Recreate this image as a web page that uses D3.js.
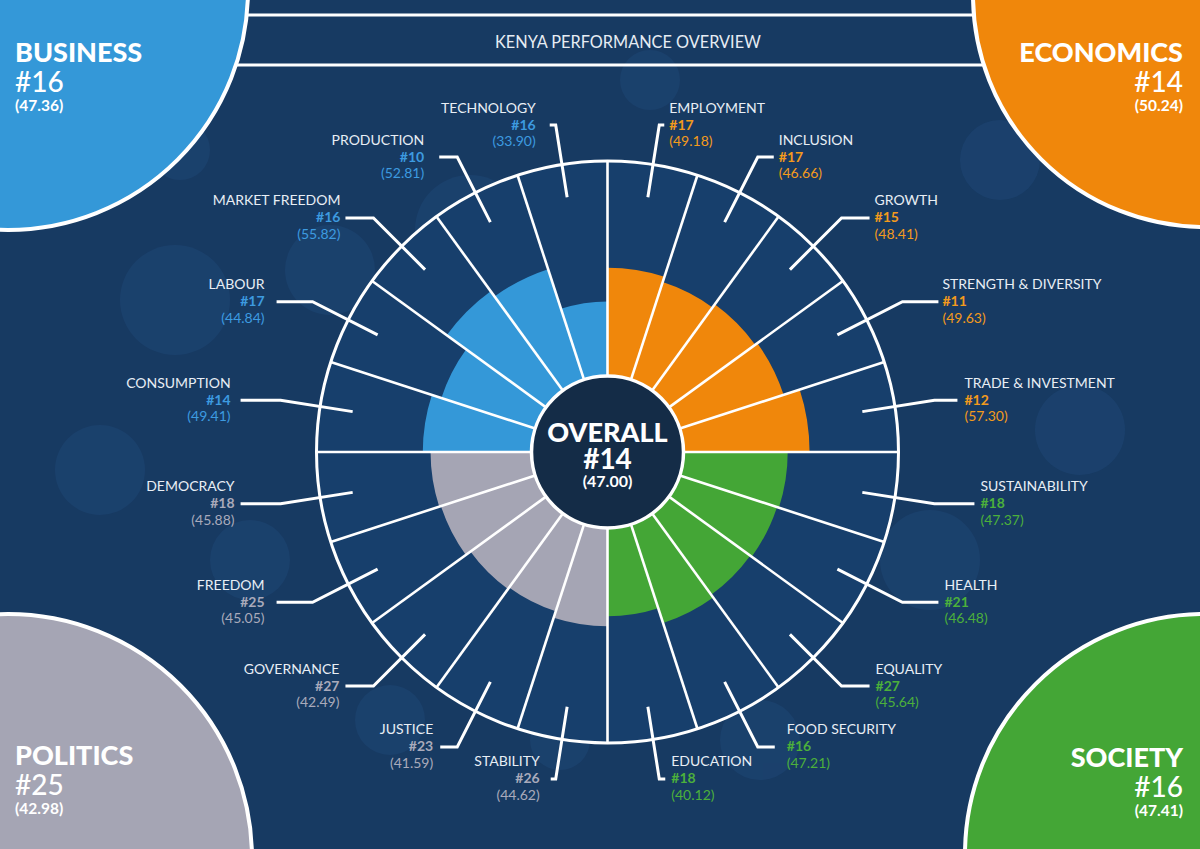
<!DOCTYPE html>
<html><head><meta charset="utf-8">
<script src="https://cdn.jsdelivr.net/npm/d3@7"></script>
<style>
html,body{margin:0;padding:0;background:#173a62;}
svg{display:block;font-family:Lato,"Open Sans",sans-serif;}
</style></head>
<body><svg id="c" width="1200" height="849"></svg>
<script>
// ---------- DATA ----------
const title = "KENYA PERFORMANCE OVERVIEW";
const overall = {label: "OVERALL", rank: 14, score: "47.00"};
const pillars = ["BUSINESS", "ECONOMICS", "POLITICS", "SOCIETY"];
const pillarRanks = [16, 14, 25, 16];
const pillarScores = ["47.36", "50.24", "42.98", "47.41"];
// indicators clockwise from 12 o'clock
const indicators = ["EMPLOYMENT","INCLUSION","GROWTH","STRENGTH & DIVERSITY","TRADE & INVESTMENT",
  "SUSTAINABILITY","HEALTH","EQUALITY","FOOD SECURITY","EDUCATION",
  "STABILITY","JUSTICE","GOVERNANCE","FREEDOM","DEMOCRACY",
  "CONSUMPTION","LABOUR","MARKET FREEDOM","PRODUCTION","TECHNOLOGY"];
const indicatorPillar = ["ECONOMICS","ECONOMICS","ECONOMICS","ECONOMICS","ECONOMICS",
  "SOCIETY","SOCIETY","SOCIETY","SOCIETY","SOCIETY",
  "POLITICS","POLITICS","POLITICS","POLITICS","POLITICS",
  "BUSINESS","BUSINESS","BUSINESS","BUSINESS","BUSINESS"];
const indicatorRanks = [17,17,15,11,12, 18,21,27,16,18, 26,23,27,25,18, 14,17,16,10,16];
const indicatorScores = [49.18,46.66,48.41,49.63,57.30, 47.37,46.48,45.64,47.21,40.12,
  44.62,41.59,42.49,45.05,45.88, 49.41,44.84,55.82,52.81,33.90];

// ---------- LAYOUT / STYLE ----------
const W = 1200, H = 849, cx = 607.5, cy = 452;
const rInner = 76, rOuter = 291, rTick0 = 258, rElbow = 331;
const hook =    [5,16,28,36,23, 40,36,28,17,6, 5,17,28,36,40, 40,36,28,18,6];
const textOff = [10,21,33,40,30, 46,42,34,29,12, 16,24,34,48,46, 50,48,33,33,20];
const colors = {BUSINESS:"#3498d8", ECONOMICS:"#f0870b", POLITICS:"#a5a5b4", SOCIETY:"#44a636"};
const textColors = {BUSINESS:"#3d9be0", ECONOMICS:"#f39a1c", POLITICS:"#a9aabb", SOCIETY:"#4cb03b"};
const corner = {
  BUSINESS:  {x:8,    y:-10, r:240, tx:15,   anchor:"start", by:62},
  ECONOMICS: {x:1205, y:-5,  r:232, tx:1183, anchor:"end",   by:62},
  POLITICS:  {x:8,    y:858, r:244, tx:15,   anchor:"start", by:765},
  SOCIETY:   {x:1205, y:854, r:240, tx:1183, anchor:"end",   by:767}
};

const svg = d3.select("#c");
svg.append("rect").attr("width",W).attr("height",H).attr("fill","#173a62");

// faint decorative network
const deco = svg.append("g").attr("opacity",0.35);
[[330,270,45],[470,230,55],[175,300,55],[100,470,45],[390,720,35],[820,330,45],[930,560,50],[1080,430,45],[760,740,40],[560,740,30],[250,560,40],[1000,160,40],[180,150,30],[650,80,30]].forEach(d=>{
  deco.append("circle").attr("cx",d[0]).attr("cy",d[1]).attr("r",d[2]).attr("fill","#224e80");
});

// title band
svg.append("line").attr("x1",0).attr("x2",W).attr("y1",15).attr("y2",15).attr("stroke","#fff").attr("stroke-width",3);
svg.append("line").attr("x1",0).attr("x2",W).attr("y1",65).attr("y2",65).attr("stroke","#fff").attr("stroke-width",3);
svg.append("text").attr("x",628).attr("y",48).attr("text-anchor","middle").attr("fill","#e6ecf3")
  .attr("font-size",16.3).text(title);

// corner circles
pillars.forEach((p,i)=>{
  const c = corner[p];
  svg.append("circle").attr("cx",c.x).attr("cy",c.y).attr("r",c.r)
    .attr("fill",colors[p]).attr("stroke","#fff").attr("stroke-width",4);
  const g = svg.append("g").attr("fill","#fff").attr("text-anchor",c.anchor);
  g.append("text").attr("x",c.tx).attr("y",c.by).attr("font-size",27).attr("font-weight",900).text(p);
  g.append("text").attr("x",c.tx).attr("y",c.by+30).attr("font-size",28).attr("font-weight",500).text("#"+pillarRanks[i]);
  g.append("text").attr("x",c.tx).attr("y",c.by+49).attr("font-size",15.5).attr("font-weight",700).text("("+pillarScores[i]+")");
});

// scales
const angle = d3.scaleBand().domain(indicators).range([0, 2*Math.PI]);
const radius = d3.scaleLinear().domain([0,100]).range([rInner, 296]);
const g = svg.append("g").attr("transform",`translate(${cx},${cy})`);

// dial background
g.append("circle").attr("r",rOuter).attr("fill","#173f6c");

// bars
const arc = d3.arc().innerRadius(rInner).outerRadius(d=>radius(d.v))
  .startAngle(d=>angle(d.n)).endAngle(d=>angle(d.n)+angle.bandwidth());
const rows = indicators.map((n,i)=>({n, v:indicatorScores[i], p:indicatorPillar[i], r:indicatorRanks[i], i}));
g.selectAll("path.bar").data(rows).join("path").attr("class","bar").attr("d",arc).attr("fill",d=>colors[d.p]);

// spokes
const pt = (a,r)=>[Math.sin(a)*r, -Math.cos(a)*r];
g.selectAll("line.spoke").data(indicators).join("line").attr("class","spoke")
  .attr("x1",d=>pt(angle(d),rInner)[0]).attr("y1",d=>pt(angle(d),rInner)[1])
  .attr("x2",d=>pt(angle(d),rOuter)[0]).attr("y2",d=>pt(angle(d),rOuter)[1])
  .attr("stroke","#fff").attr("stroke-width",2.6);
g.append("circle").attr("r",rOuter).attr("fill","none").attr("stroke","#fff").attr("stroke-width",3);

// leaders + labels
rows.forEach(d=>{
  const a = angle(d.n) + angle.bandwidth()/2;
  const right = Math.sin(a) > 0;
  const s = right ? 1 : -1;
  const p0 = pt(a,rTick0), p1 = pt(a,rElbow);
  const p2 = [p1[0] + s*hook[d.i], p1[1]];
  g.append("path").attr("d",d3.line()([p0,p1,p2])).attr("fill","none")
    .attr("stroke","#fff").attr("stroke-width",3).attr("stroke-linejoin","miter");
  const tx = p1[0] + s*textOff[d.i];
  const t = g.append("g").attr("text-anchor", right ? "start" : "end").attr("font-size",14);
  t.append("text").attr("x",tx).attr("y",p1[1]-12.5).attr("fill","#e8eef5").text(d.n);
  t.append("text").attr("x",tx).attr("y",p1[1]+4.5).attr("fill",textColors[d.p]).attr("font-weight",700).text("#"+d.r);
  t.append("text").attr("x",tx).attr("y",p1[1]+21).attr("fill",textColors[d.p]).text("("+d.v.toFixed(2)+")");
});

// center
g.append("circle").attr("r",rInner).attr("fill","#142c47").attr("stroke","#fff").attr("stroke-width",3.5);
g.append("text").attr("y",-10).attr("text-anchor","middle").attr("fill","#fff").attr("font-size",27).attr("font-weight",900).text(overall.label);
g.append("text").attr("y",17).attr("text-anchor","middle").attr("fill","#fff").attr("font-size",28).attr("font-weight",700).text("#"+overall.rank);
g.append("text").attr("y",35).attr("text-anchor","middle").attr("fill","#fff").attr("font-size",16).attr("font-weight",700).text("("+overall.score+")");
</script></body></html>
